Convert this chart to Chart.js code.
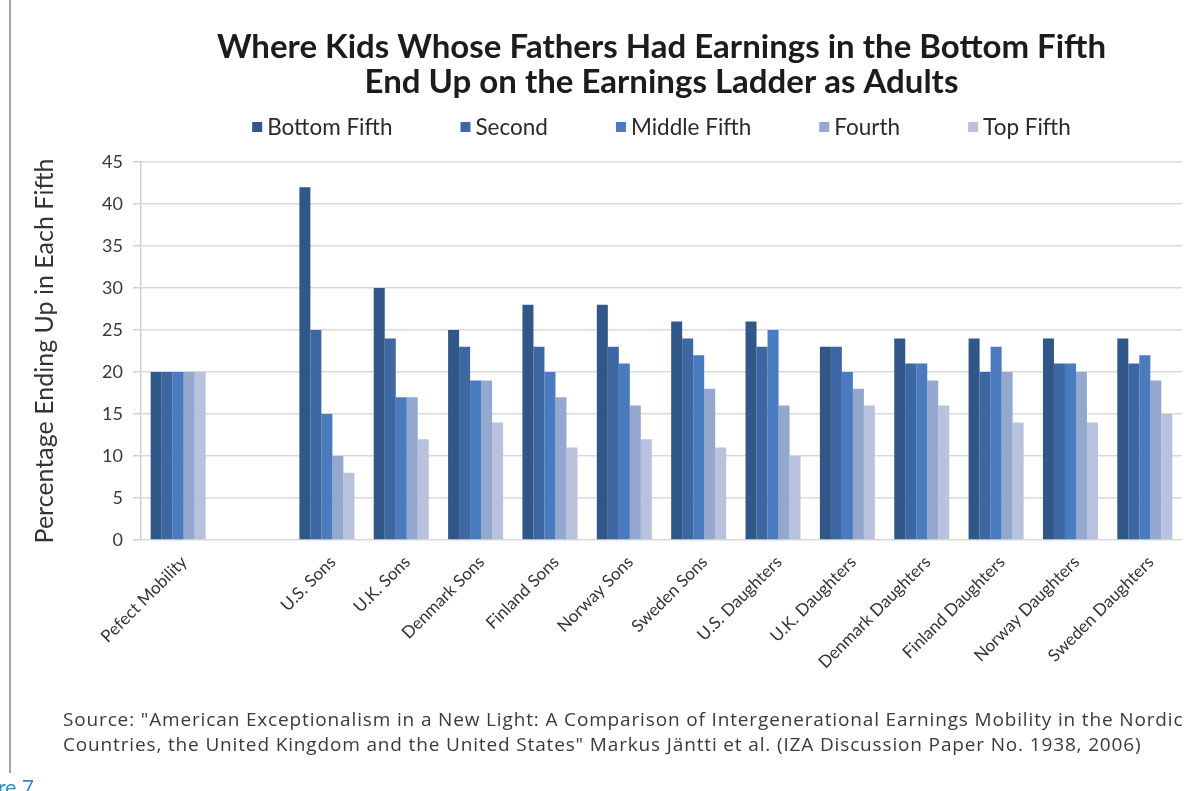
<!DOCTYPE html>
<html>
<head>
<meta charset="utf-8">
<title>Earnings ladder</title>
<script src="https://cdn.jsdelivr.net/npm/chart.js@4"></script>
<style>
  html, body { margin: 0; padding: 0; background: #fff; }
  body { width: 1188px; height: 791px; position: relative; overflow: hidden; font-family: Lato, sans-serif; }
  #wrap { position: absolute; left: 0; top: 0; width: 1188px; height: 791px; }
  .frame { position: absolute; left: 9px; top: 0; width: 2px; height: 773px; background: #a6a6a6; }
  .source { position: absolute; left: 63px; top: 707px; font-family: "Open Sans", sans-serif; font-size: 19px; letter-spacing: 0.85px; line-height: 25px; color: #3a3a3a; white-space: nowrap; }
  .fig { position: absolute; left: -2px; top: 774px; font-size: 21px; color: #2d8bc3; }
</style>
</head>
<body>
<div class="frame"></div>
<div id="wrap"><canvas id="chart" width="1188" height="791"></canvas></div>
<div class="source">Source: "American Exceptionalism in a New Light: A Comparison of Intergenerational Earnings Mobility in the Nordic<br>Countries, the United Kingdom and the United States" Markus Jäntti et al. (IZA Discussion Paper No. 1938, 2006)</div>
<div class="fig">re 7</div>
<script>
const categories = ['Pefect Mobility', '', 'U.S. Sons', 'U.K. Sons', 'Denmark Sons', 'Finland Sons', 'Norway Sons',
  'Sweden Sons', 'U.S. Daughters', 'U.K. Daughters', 'Denmark Daughters', 'Finland Daughters',
  'Norway Daughters', 'Sweden Daughters'];

const seriesNames = ['Bottom Fifth', 'Second', 'Middle Fifth', 'Fourth', 'Top Fifth'];
const bottomFifth = [20, null, 42, 30, 25, 28, 28, 26, 26, 23, 24, 24, 24, 24];
const second      = [20, null, 25, 24, 23, 23, 23, 24, 23, 23, 21, 20, 21, 21];
const middleFifth = [20, null, 15, 17, 19, 20, 21, 22, 25, 20, 21, 23, 21, 22];
const fourth      = [20, null, 10, 17, 19, 17, 16, 18, 16, 18, 19, 20, 20, 19];
const topFifth    = [20, null,  8, 12, 14, 11, 12, 11, 10, 16, 16, 14, 14, 15];

const yMax = 45;
const yStep = 5;

const colors = ['#315789', '#3d67a2', '#4a7bbe', '#94a8cf', '#b8c2dd'];
const seriesValues = [bottomFifth, second, middleFifth, fourth, topFifth];

// legend drawn as one widely spaced row centred over the plot
const legendRow = {
  id: 'legendRow',
  afterDraw(chart, args, opts) {
    const { ctx, chartArea } = chart;
    const box = 10, gap = 5, spacing = 68;
    ctx.save();
    ctx.font = opts.font;
    ctx.textBaseline = 'middle';
    const items = chart.data.datasets.map(ds => ({
      text: ds.label, color: ds.backgroundColor, w: ctx.measureText(ds.label).width
    }));
    const total = items.reduce((s, it) => s + box + gap + it.w, 0) + spacing * (items.length - 1);
    let x = (chartArea.left + chartArea.right) / 2 - total / 2;
    const y = opts.y;
    items.forEach(it => {
      ctx.fillStyle = it.color;
      ctx.fillRect(x, y - box / 2, box, box);
      ctx.fillStyle = '#2a2a2a';
      ctx.fillText(it.text, x + box + gap, y + 1);
      x += box + gap + it.w + spacing;
    });
    ctx.restore();
  }
};

new Chart(document.getElementById('chart'), {
  type: 'bar',
  data: {
    labels: categories,
    datasets: seriesNames.map((name, i) => ({
      label: name,
      data: seriesValues[i],
      backgroundColor: colors[i],
      borderWidth: 0,
      categoryPercentage: 0.74,
      barPercentage: 1.0
    }))
  },
  options: {
    responsive: false,
    animation: false,
    layout: { padding: { left: 0, right: 6, top: 0, bottom: 91 } },
    plugins: {
      legend: { display: false },
      tooltip: { enabled: false },
      title: {
        display: true,
        fullSize: false,
        text: ['Where Kids Whose Fathers Had Earnings in the Bottom Fifth', 'End Up on the Earnings Ladder as Adults'],
        color: '#1c1c1c',
        font: { family: 'Lato', size: 33, weight: 'bold', lineHeight: 1.06 },
        padding: { top: 30, bottom: 62 }
      },
      legendRow: { font: '22.5px Lato', y: 127 }
    },
    scales: {
      x: {
        grid: { display: false },
        border: { display: false },
        ticks: {
          autoSkip: false,
          minRotation: 45,
          maxRotation: 45,
          padding: 4,
          labelOffset: 6,
          color: '#333',
          font: { family: 'Lato', size: 17 }
        },
        afterFit(scale) { scale.height = 160; }
      },
      y: {
        min: 0,
        max: yMax,
        ticks: {
          stepSize: yStep,
          padding: 10,
          color: '#3a3a3a',
          font: { family: 'Lato', size: 18 }
        },
        grid: { color: '#d9d9d9', lineWidth: 1.5, tickLength: 8, tickColor: '#d0d0d0' },
        border: { display: true, color: '#cfcfcf', width: 1.5 },
        title: {
          display: true,
          text: 'Percentage Ending Up in Each Fifth',
          color: '#333',
          font: { family: 'Lato', size: 25 },
          padding: { top: 30, bottom: 0 }
        },
        afterFit(scale) { scale.width = 141; }
      }
    }
  },
  plugins: [legendRow]
});
</script>
</body>
</html>
